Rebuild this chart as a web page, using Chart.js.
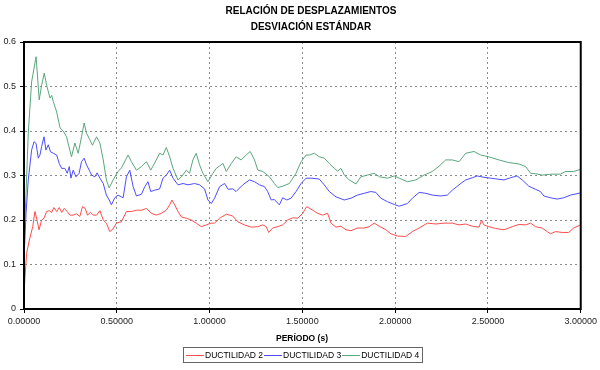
<!DOCTYPE html>
<html>
<head>
<meta charset="utf-8">
<script src="https://cdn.jsdelivr.net/npm/chart.js@4"></script>
<style>
  body { margin: 0; background: #fff; }
  canvas { display: block; }
</style>
</head>
<body>
<canvas id="graficoDesviacion" width="600" height="370"></canvas>
<script>
'use strict'

const titulo = ['RELACIÓN DE DESPLAZAMIENTOS', 'DESVIACIÓN ESTÁNDAR']
const tituloX = 'PERÍODO (s)'
const nombres = ['DUCTILIDAD 2', 'DUCTILIDAD 3', 'DUCTILIDAD 4']
const colores = ['#ff4d4d', '#4d4dff', '#5aa77c']

// Ductilidad 2 (roja)
const periodoD2 = [0, 0.014, 0.029, 0.047, 0.059, 0.072, 0.081, 0.095, 0.108, 0.122, 0.136, 0.149, 0.161, 0.176, 0.19, 0.203, 0.217, 0.233, 0.247, 0.265, 0.283, 0.301, 0.315, 0.33, 0.342, 0.358, 0.373, 0.391, 0.409, 0.427, 0.444, 0.462, 0.48, 0.498, 0.525, 0.552, 0.579, 0.606, 0.633, 0.66, 0.686, 0.713, 0.74, 0.767, 0.785, 0.797, 0.812, 0.83, 0.848, 0.875, 0.901, 0.928, 0.955, 0.982, 1.009, 1.027, 1.054, 1.09, 1.125, 1.152, 1.188, 1.224, 1.26, 1.287, 1.305, 1.319, 1.34, 1.367, 1.394, 1.421, 1.448, 1.475, 1.502, 1.523, 1.556, 1.582, 1.609, 1.636, 1.654, 1.681, 1.708, 1.735, 1.762, 1.797, 1.833, 1.86, 1.887, 1.914, 1.95, 1.977, 2.012, 2.057, 2.093, 2.129, 2.174, 2.219, 2.263, 2.308, 2.344, 2.38, 2.416, 2.452, 2.466, 2.478, 2.505, 2.541, 2.586, 2.631, 2.667, 2.703, 2.73, 2.756, 2.792, 2.819, 2.837, 2.864, 2.9, 2.935, 2.962, 3.0]
const ductilidad2 = [0.037, 0.125, 0.155, 0.185, 0.219, 0.196, 0.178, 0.2, 0.204, 0.219, 0.221, 0.217, 0.228, 0.219, 0.228, 0.217, 0.226, 0.219, 0.211, 0.211, 0.214, 0.208, 0.23, 0.226, 0.211, 0.217, 0.211, 0.211, 0.221, 0.2, 0.193, 0.174, 0.18, 0.193, 0.196, 0.219, 0.219, 0.222, 0.222, 0.226, 0.215, 0.211, 0.215, 0.222, 0.234, 0.245, 0.234, 0.219, 0.207, 0.204, 0.2, 0.193, 0.185, 0.189, 0.193, 0.193, 0.204, 0.213, 0.209, 0.196, 0.189, 0.184, 0.185, 0.189, 0.185, 0.172, 0.182, 0.185, 0.189, 0.2, 0.205, 0.204, 0.215, 0.23, 0.222, 0.215, 0.211, 0.215, 0.193, 0.184, 0.186, 0.178, 0.176, 0.182, 0.182, 0.185, 0.193, 0.186, 0.178, 0.169, 0.164, 0.163, 0.174, 0.182, 0.193, 0.191, 0.193, 0.193, 0.189, 0.191, 0.186, 0.184, 0.2, 0.189, 0.185, 0.181, 0.178, 0.185, 0.19, 0.189, 0.193, 0.185, 0.182, 0.174, 0.169, 0.174, 0.172, 0.172, 0.182, 0.189]

// Ductilidad 3 (azul)
const periodoD3 = [0, 0.011, 0.023, 0.041, 0.054, 0.065, 0.077, 0.086, 0.095, 0.108, 0.118, 0.131, 0.143, 0.158, 0.176, 0.19, 0.203, 0.22, 0.233, 0.244, 0.253, 0.265, 0.28, 0.297, 0.31, 0.324, 0.337, 0.355, 0.364, 0.382, 0.394, 0.409, 0.427, 0.444, 0.459, 0.471, 0.489, 0.507, 0.525, 0.534, 0.552, 0.57, 0.588, 0.606, 0.633, 0.651, 0.668, 0.683, 0.704, 0.731, 0.749, 0.767, 0.785, 0.803, 0.83, 0.857, 0.884, 0.919, 0.946, 0.973, 0.991, 1.009, 1.027, 1.054, 1.081, 1.1, 1.125, 1.143, 1.179, 1.215, 1.242, 1.269, 1.296, 1.313, 1.332, 1.349, 1.376, 1.394, 1.416, 1.439, 1.466, 1.493, 1.52, 1.547, 1.591, 1.618, 1.645, 1.681, 1.726, 1.762, 1.797, 1.833, 1.869, 1.896, 1.923, 1.959, 1.995, 2.022, 2.066, 2.093, 2.129, 2.165, 2.2, 2.246, 2.281, 2.308, 2.344, 2.38, 2.416, 2.442, 2.478, 2.514, 2.55, 2.586, 2.622, 2.657, 2.685, 2.72, 2.756, 2.783, 2.801, 2.837, 2.873, 2.909, 2.945, 3.0]
const ductilidad3 = [0.11, 0.215, 0.29, 0.357, 0.376, 0.372, 0.339, 0.346, 0.365, 0.387, 0.357, 0.369, 0.353, 0.35, 0.346, 0.327, 0.316, 0.316, 0.305, 0.32, 0.294, 0.312, 0.297, 0.305, 0.331, 0.339, 0.324, 0.309, 0.301, 0.297, 0.306, 0.294, 0.282, 0.256, 0.245, 0.234, 0.25, 0.256, 0.252, 0.25, 0.297, 0.312, 0.275, 0.254, 0.258, 0.275, 0.286, 0.264, 0.267, 0.27, 0.294, 0.301, 0.312, 0.294, 0.279, 0.282, 0.279, 0.282, 0.279, 0.27, 0.245, 0.237, 0.249, 0.275, 0.282, 0.269, 0.27, 0.264, 0.279, 0.29, 0.286, 0.279, 0.275, 0.264, 0.245, 0.246, 0.234, 0.25, 0.245, 0.249, 0.264, 0.282, 0.294, 0.294, 0.292, 0.279, 0.264, 0.252, 0.245, 0.249, 0.256, 0.26, 0.264, 0.262, 0.249, 0.241, 0.235, 0.231, 0.237, 0.249, 0.262, 0.26, 0.256, 0.254, 0.256, 0.267, 0.279, 0.29, 0.295, 0.299, 0.296, 0.294, 0.292, 0.29, 0.295, 0.299, 0.29, 0.276, 0.269, 0.264, 0.254, 0.25, 0.247, 0.25, 0.256, 0.261]

// Ductilidad 4 (verde)
const periodoD4 = [0, 0.011, 0.023, 0.041, 0.065, 0.082, 0.095, 0.109, 0.122, 0.14, 0.149, 0.158, 0.176, 0.194, 0.211, 0.229, 0.247, 0.256, 0.274, 0.292, 0.31, 0.324, 0.337, 0.355, 0.369, 0.391, 0.409, 0.427, 0.444, 0.459, 0.48, 0.507, 0.525, 0.561, 0.579, 0.606, 0.633, 0.66, 0.683, 0.704, 0.731, 0.749, 0.767, 0.785, 0.803, 0.83, 0.848, 0.875, 0.892, 0.91, 0.928, 0.946, 0.964, 0.991, 1.018, 1.036, 1.072, 1.09, 1.117, 1.143, 1.17, 1.197, 1.219, 1.242, 1.26, 1.287, 1.323, 1.349, 1.367, 1.394, 1.43, 1.466, 1.493, 1.52, 1.538, 1.565, 1.591, 1.618, 1.645, 1.672, 1.69, 1.708, 1.726, 1.753, 1.789, 1.815, 1.851, 1.887, 1.916, 1.959, 1.995, 2.022, 2.066, 2.111, 2.156, 2.2, 2.237, 2.272, 2.308, 2.344, 2.38, 2.425, 2.461, 2.505, 2.559, 2.613, 2.667, 2.703, 2.73, 2.756, 2.792, 2.846, 2.89, 2.918, 2.962, 3.0]
const ductilidad4 = [0.15, 0.26, 0.395, 0.51, 0.567, 0.47, 0.503, 0.53, 0.503, 0.474, 0.48, 0.466, 0.443, 0.407, 0.4, 0.387, 0.357, 0.342, 0.373, 0.35, 0.387, 0.418, 0.395, 0.38, 0.368, 0.387, 0.373, 0.335, 0.29, 0.272, 0.29, 0.309, 0.317, 0.346, 0.331, 0.312, 0.32, 0.331, 0.312, 0.328, 0.35, 0.346, 0.363, 0.342, 0.316, 0.29, 0.297, 0.312, 0.305, 0.335, 0.35, 0.324, 0.305, 0.286, 0.305, 0.316, 0.327, 0.309, 0.327, 0.342, 0.335, 0.346, 0.354, 0.335, 0.312, 0.309, 0.297, 0.282, 0.273, 0.276, 0.282, 0.305, 0.331, 0.346, 0.346, 0.35, 0.342, 0.339, 0.327, 0.316, 0.31, 0.316, 0.301, 0.29, 0.281, 0.297, 0.301, 0.305, 0.297, 0.294, 0.299, 0.294, 0.286, 0.29, 0.301, 0.309, 0.321, 0.335, 0.335, 0.331, 0.35, 0.354, 0.346, 0.342, 0.335, 0.329, 0.326, 0.32, 0.305, 0.304, 0.301, 0.303, 0.303, 0.309, 0.309, 0.314]

const fuente = 'Liberation Sans, Arial, sans-serif'

// une periodo y valor en puntos {x, y}
function puntos(periodos, valores) {
  return periodos.map((p, i) => ({ x: p, y: valores[i] }))
}

// titulo, titulo del eje x, leyenda con marco y borde del area
const extras = {
  id: 'extras',
  afterDraw(chart) {
    const c = chart.ctx
    const area = chart.chartArea
    c.save()
    c.setLineDash([])

    // borde negro grueso
    c.strokeStyle = '#000'
    c.lineWidth = 2
    c.strokeRect(area.left, area.top, area.right - area.left, area.bottom - area.top)

    c.fillStyle = '#000'
    c.textAlign = 'center'
    c.textBaseline = 'middle'
    c.font = 'bold 10px ' + fuente
    c.fillText(titulo[0], 311, 11)
    c.fillText(titulo[1], 311, 27)

    c.font = 'bold 8.5px ' + fuente
    c.fillText(tituloX, 302, 339)

    // leyenda
    c.font = '8.5px ' + fuente
    const largoLinea = 18
    let ancho = 0
    nombres.forEach(n => { ancho += largoLinea + 1 + c.measureText(n).width + 1 })
    const x0 = Math.round(303 - ancho / 2)
    const yL = 355
    c.strokeStyle = '#666'
    c.lineWidth = 1
    c.strokeRect(x0 - 3 + 0.5, 347.5, Math.round(ancho + 5), 15)
    let x = x0
    c.textAlign = 'left'
    nombres.forEach((n, i) => {
      c.fillStyle = colores[i]
      c.fillRect(Math.round(x), yL, largoLinea, 1)
      x += largoLinea + 1
      c.fillStyle = '#000'
      c.fillText(n, x, yL + 1)
      x += c.measureText(n).width + 1
    })
    c.restore()
  }
}

const ctx = document.getElementById('graficoDesviacion').getContext('2d')

const myChart = new Chart(ctx, {
  type: 'line',
  data: {
    datasets: [
      { label: nombres[0], data: puntos(periodoD2, ductilidad2), borderColor: colores[0] },
      { label: nombres[1], data: puntos(periodoD3, ductilidad3), borderColor: colores[1] },
      { label: nombres[2], data: puntos(periodoD4, ductilidad4), borderColor: colores[2] }
    ]
  },
  options: {
    responsive: false,
    animation: false,
    layout: { padding: { top: 42, right: 18, left: 0, bottom: 0 } },
    elements: {
      point: { radius: 0 },
      line: { borderWidth: 1, tension: 0 }
    },
    plugins: {
      legend: { display: false },
      title: { display: false },
      tooltip: { enabled: false }
    },
    scales: {
      x: {
        type: 'linear',
        min: 0,
        max: 3,
        afterFit: scale => { scale.height = 61 },
        ticks: {
          stepSize: 0.5,
          maxRotation: 0,
          padding: 3,
          color: '#222',
          font: { family: fuente, size: 9 },
          callback: v => v.toFixed(5)
        },
        grid: { color: '#8c8c8c', tickColor: '#000', tickLength: 4, tickBorderDash: [] },
        border: { display: true, color: '#000', width: 2, dash: [2, 3] }
      },
      y: {
        min: 0,
        max: 0.6,
        afterFit: scale => { scale.width = 24 },
        ticks: {
          stepSize: 0.1,
          padding: 4,
          color: '#222',
          font: { family: fuente, size: 9 },
          callback: v => String(Math.round(v * 10) / 10)
        },
        grid: { color: '#8c8c8c', tickColor: '#000', tickLength: 4, tickBorderDash: [] },
        border: { display: true, color: '#000', width: 2, dash: [2, 3] }
      }
    }
  },
  plugins: [extras]
})
</script>
</body>
</html>
